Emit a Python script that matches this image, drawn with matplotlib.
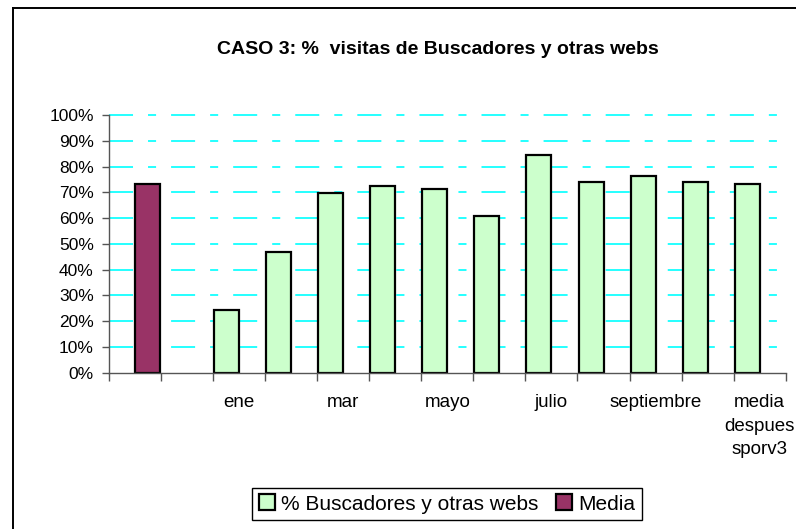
import numpy as np
import matplotlib
matplotlib.use('Agg')
import matplotlib.pyplot as plt
from matplotlib.lines import Line2D
from matplotlib.patches import Patch

plt.rcParams['font.family'] = ['Liberation Sans', 'DejaVu Sans']
plt.rcParams['lines.scale_dashes'] = False

# data (percent)
categorias = ['', '', 'ene', 'feb', 'mar', 'abr', 'mayo', 'jun', 'julio',
              'ago', 'septiembre', 'oct', 'media\ndespues\nsporv3']
buscadores = [np.nan, np.nan, 24.3, 47.0, 69.9, 72.4, 71.2, 60.8, 84.4,
              74.1, 76.2, 74.0, 73.2]
media = [73.1] + [np.nan] * 12
yticks = [0, 10, 20, 30, 40, 50, 60, 70, 80, 90, 100]

VERDE = '#CCFFCC'
GRANATE = '#993366'

W, H = 796, 529
fig = plt.figure(figsize=(W / 100, H / 100), dpi=100)
ax = fig.add_axes([109 / W, 1 - 372.7 / H, (785.7 - 109) / W, (372.7 - 115) / H])

x = np.arange(len(categorias))
bw = 0.48
b = np.array(buscadores)
m = np.array(media)
ok_b = ~np.isnan(b)
ok_m = ~np.isnan(m)
ax.bar(x[ok_b] - bw / 2, b[ok_b], width=bw, color=VERDE, edgecolor='black',
       linewidth=1.6, zorder=3)
ax.bar(x[ok_m] + bw / 2, m[ok_m], width=bw, color=GRANATE, edgecolor='black',
       linewidth=1.6, zorder=3)

ax.set_xlim(-0.5, len(categorias) - 0.5)
ax.set_ylim(0, 100)

# gridlines (not at 0)
for v in yticks[1:]:
    ax.axhline(v, color='#00FFFF', linewidth=1.2, clip_on=False,
               linestyle=(0, (17.3, 10.8, 5.8, 10.8)), zorder=1)

# y axis
ax.set_yticks(yticks)
ax.set_yticklabels([f'{v}%' for v in yticks], fontsize=12.5)
ax.tick_params(axis='y', direction='out', length=5, width=1, color='#555555', pad=6)

# x axis: boundaries as ticks, labels every other category
ax.set_xticks(np.arange(len(categorias) + 1) - 0.5)
ax.set_xticklabels([])
ax.tick_params(axis='x', direction='out', length=6, width=1, color='#555555')
for i, lab in enumerate(categorias):
    if i % 2 == 0 and lab:
        ax.text(i, -8.4, lab, ha='center', va='top', fontsize=13.5,
                linespacing=1.5, clip_on=False)

for s in ['top', 'right']:
    ax.spines[s].set_visible(False)
for s in ['left', 'bottom']:
    ax.spines[s].set_color('#555555')
    ax.spines[s].set_linewidth(1.0)
    ax.spines[s].set_zorder(4)

# title
fig.text(437.5 / W, 1 - 49 / H, 'CASO 3: %  visitas de Buscadores y otras webs',
         ha='center', va='center', fontsize=14, fontweight='bold')

# legend
handles = [Patch(facecolor=VERDE, edgecolor='black', linewidth=1.6),
           Patch(facecolor=GRANATE, edgecolor='black', linewidth=1.6)]
leg = fig.legend(handles, ['% Buscadores y otras webs', 'Media'],
                 loc='center', bbox_to_anchor=(447 / W, 1 - 504 / H), ncol=2,
                 fontsize=15, frameon=True, fancybox=False, framealpha=1,
                 handlelength=0.8, handleheight=0.8, handletextpad=0.3,
                 columnspacing=0.8, borderpad=0.3, borderaxespad=0)
leg.get_frame().set_edgecolor('black')
leg.get_frame().set_linewidth(1.0)

# chart area border (extends beyond the image on right and bottom)
fig.add_artist(Line2D([13 / W, 13 / W], [0, 1 - 7.7 / H], color='black',
                      linewidth=1.4, transform=fig.transFigure))
fig.add_artist(Line2D([13 / W, 1], [1 - 7.7 / H, 1 - 7.7 / H], color='black',
                      linewidth=1.4, transform=fig.transFigure))

fig.savefig('out.png', dpi=100)
